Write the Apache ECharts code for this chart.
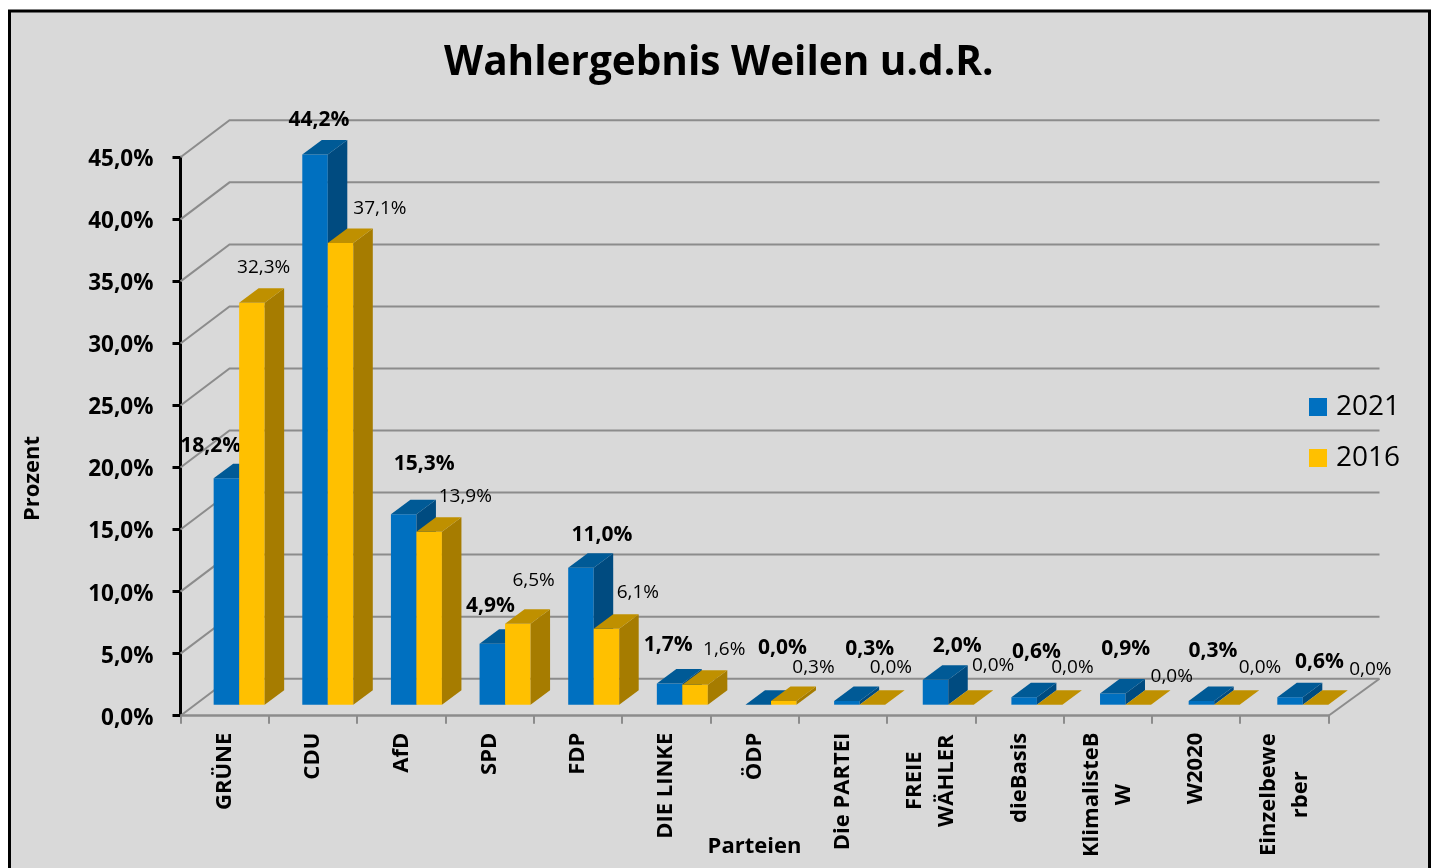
<!DOCTYPE html>
<html>
<head>
<meta charset="utf-8">
<title>Wahlergebnis Weilen u.d.R.</title>
<script src="https://cdn.jsdelivr.net/npm/echarts@6/dist/echarts.min.js"></script>
<style>
  html, body { margin: 0; padding: 0; background: #fff; }
  #chart { width: 1434px; height: 868px; }
</style>
</head>
<body>
<div id="chart"></div>
<script>
// data
const parties = ['GRÜNE', 'CDU', 'AfD', 'SPD', 'FDP', 'DIE LINKE', 'ÖDP', 'Die PARTEI', 'FREIE\nWÄHLER', 'dieBasis', 'KlimalisteB\nW', 'W2020', 'Einzelbewe\nrber'];
const values2021 = [18.2, 44.2, 15.3, 4.9, 11.0, 1.7, 0.0, 0.3, 2.0, 0.6, 0.9, 0.3, 0.6];
const values2016 = [32.3, 37.1, 13.9, 6.5, 6.1, 1.6, 0.3, 0.0, 0.0, 0.0, 0.0, 0.0, 0.0];
const yTicks = [0, 5, 10, 15, 20, 25, 30, 35, 40, 45];

// where the value labels sit relative to band center / value point (the original is hand placed)
const labelShift2021 = [[-14, -44], [6, -47], [23, -62], [1, -49], [24, -44], [2, -50], [28, -68], [27, -63], [26, -45], [17, -56], [18, -56], [17, -61], [35, -46]];
const labelShift2016 = [[39, -47], [67, -47], [64, -47], [44, -54], [60, -47], [58, -46], [59, -44], [48, -48], [62, -50], [53, -48], [64, -39], [64, -48], [86, -46]];

// fake 3d
const WALL_DX = 49, WALL_DY = -37;
const BAR_W = 25.5, BAR_DX = 19.5, BAR_DY = -14.5;
const BAR_SHIFT_X = 14.5, BAR_SHIFT_Y = -11;
const BAR_SPREAD = 0.33; // bars sit further back, so they fan out a little against the ticks
const BAR_STRETCH = 1.003;
const GRID_COLOR = '#8c8c8c';
const FONT = '"Open Sans", sans-serif';

function pct(v) {
  return v.toFixed(1).replace('.', ',') + '%';
}

function poly(points, color) {
  return { type: 'polygon', shape: { points: points }, style: { fill: color } };
}

function renderWall(params, api) {
  const sys = params.coordSys;
  const p = api.coord([0, api.value(1)]);
  const x0 = sys.x, y = p[1];
  const children = [{
    type: 'polyline',
    shape: { points: [[x0, y], [x0 + WALL_DX, y + WALL_DY], [x0 + sys.width + WALL_DX + 2, y + WALL_DY]] },
    style: { stroke: GRID_COLOR, lineWidth: 2, fill: null }
  }];
  if (api.value(1) === 0) {
    children.push({
      type: 'line',
      shape: { x1: x0 + sys.width, y1: y, x2: x0 + sys.width + WALL_DX + 2, y2: y + WALL_DY },
      style: { stroke: GRID_COLOR, lineWidth: 2 }
    });
  }
  return { type: 'group', children: children };
}

// makes renderItem for one of the two bar rows
function barRenderer(slot, front, top, side, shifts, font) {
  return function (params, api) {
    const i = api.value(0), v = api.value(1);
    const c = api.coord([i, v]);
    const base = api.coord([i, 0]);
    const x1 = c[0] + BAR_SHIFT_X + i * BAR_SPREAD + slot * BAR_W;
    const x2 = x1 + BAR_W;
    const yBase = base[1] + BAR_SHIFT_Y;
    const yTop = yBase - (base[1] - c[1]) * BAR_STRETCH;
    const children = [];
    if (v > 0) {
      children.push(poly([[x1, yTop], [x2, yTop], [x2, yBase], [x1, yBase]], front));
      children.push(poly([[x2, yTop], [x2 + BAR_DX, yTop + BAR_DY], [x2 + BAR_DX, yBase + BAR_DY], [x2, yBase]], side));
    }
    children.push(poly([[x1, yTop], [x1 + BAR_DX, yTop + BAR_DY], [x2 + BAR_DX, yTop + BAR_DY], [x2, yTop]], top));
    children.push({
      type: 'text',
      style: {
        text: pct(v),
        x: c[0] + shifts[i][0],
        y: c[1] + shifts[i][1],
        align: 'center',
        verticalAlign: 'middle',
        fill: '#000',
        font: font
      }
    });
    return { type: 'group', children: children };
  };
}

function toRows(values) {
  return values.map(function (v, i) { return [i, v]; });
}

const chart = echarts.init(document.getElementById('chart'), null, { renderer: 'canvas' });

chart.setOption({
  animation: false,
  backgroundColor: '#fff',
  textStyle: { fontFamily: FONT },
  graphic: [{
    type: 'rect',
    z: -10,
    silent: true,
    shape: { x: 9.5, y: 11, width: 1420, height: 880 },
    style: { fill: '#d9d9d9', stroke: '#000', lineWidth: 3 }
  }],
  title: {
    text: 'Wahlergebnis Weilen u.d.R.',
    left: 439,
    top: 38,
    textStyle: { fontFamily: FONT, fontSize: 40.5, fontWeight: 'bold', color: '#000' }
  },
  legend: {
    data: ['2021', '2016'],
    orient: 'vertical',
    left: 1309,
    top: 393,
    padding: 0,
    icon: 'rect',
    itemWidth: 18,
    itemHeight: 18,
    itemGap: 23,
    selectedMode: false,
    textStyle: { fontFamily: FONT, fontSize: 28, color: '#000', padding: [0, 0, 0, 4] }
  },
  grid: { left: 180.5, right: 105.5, top: 157.3, bottom: 152.3, outerBoundsMode: 'none' },
  xAxis: {
    type: 'category',
    data: parties,
    boundaryGap: true,
    name: 'Parteien',
    nameLocation: 'middle',
    nameGap: 120,
    nameMoveOverlap: false,
    nameTextStyle: { fontFamily: FONT, fontSize: 22, fontWeight: 'bold', color: '#000' },
    axisLine: { onZero: false, lineStyle: { color: GRID_COLOR, width: 2.5 } },
    axisTick: { show: true, length: 8, lineStyle: { color: GRID_COLOR, width: 2 } },
    axisLabel: {
      interval: 0,
      rotate: 90,
      margin: 17,
      fontFamily: FONT,
      fontSize: 22,
      fontWeight: 'bold',
      color: '#000',
      formatter: function (name) {
        if (name.indexOf('\n') < 0) return name;
        // two line names are centered inside their block
        const style = name.split('\n')[0].length > 8 ? 'wide' : 'mid';
        return name.split('\n').map(function (l) { return '{' + style + '|' + l + '}'; }).join('\n');
      },
      rich: {
        wide: { width: 124, align: 'center', lineHeight: 32, fontSize: 22, fontWeight: 'bold', fontFamily: FONT, color: '#000' },
        mid: { width: 96, align: 'center', lineHeight: 32, fontSize: 22, fontWeight: 'bold', fontFamily: FONT, color: '#000' }
      }
    }
  },
  yAxis: {
    type: 'value',
    min: 0,
    max: 45,
    interval: 5,
    name: 'Prozent',
    nameLocation: 'middle',
    nameGap: 137,
    nameTextStyle: { fontFamily: FONT, fontSize: 22, fontWeight: 'bold', color: '#000', padding: [0, 84, 0, 0] },
    splitLine: { show: false },
    axisLine: { show: true, lineStyle: { color: '#000', width: 3 } },
    axisTick: { show: true, length: 8, lineStyle: { color: '#000', width: 3 } },
    axisLabel: {
      margin: 27,
      // labels hang a little below their ticks in the original
      verticalAlign: 'top',
      lineHeight: 5,
      fontFamily: FONT,
      fontSize: 22.5,
      fontWeight: 'bold',
      color: '#000',
      customValues: yTicks,
      formatter: function (v) { return pct(v); }
    }
  },
  series: [
    {
      name: 'wall',
      type: 'custom',
      silent: true,
      z: 1,
      renderItem: renderWall,
      data: yTicks.map(function (t) { return [0, t]; })
    },
    {
      name: '2021',
      type: 'custom',
      z: 3,
      itemStyle: { color: '#0070c0' },
      renderItem: barRenderer(-1, '#0070c0', '#005a96', '#004b80', labelShift2021, 'bold 21px ' + FONT),
      data: toRows(values2021)
    },
    {
      name: '2016',
      type: 'custom',
      z: 4,
      itemStyle: { color: '#ffc000' },
      renderItem: barRenderer(0, '#ffc000', '#bf9000', '#a67c00', labelShift2016, '19px ' + FONT),
      data: toRows(values2016)
    }
  ]
});
</script>
</body>
</html>
